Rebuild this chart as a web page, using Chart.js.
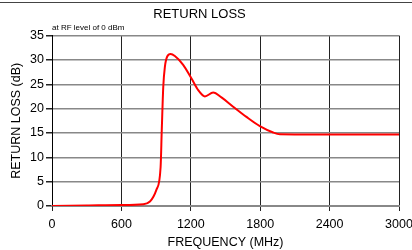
<!DOCTYPE html>
<html>
<head>
<meta charset="utf-8">
<script src="https://cdn.jsdelivr.net/npm/chart.js@4/dist/chart.umd.min.js"></script>
<style>
  html, body { margin: 0; padding: 0; background: #fff; }
  #wrap { width: 412px; height: 250px; }
</style>
</head>
<body>
<div id="wrap"><canvas id="grafico" width="412" height="250"></canvas></div>
<script>
// Valores (MHz, dB)
const frequencias = [0, 300, 600, 790, 904, 939, 949, 962, 976, 996, 1025, 1062, 1134, 1206, 1264, 1322, 1393, 1465, 1566, 1681, 1797, 1912, 1970, 2400, 3000];
const perdaRetorno = [0, 0.1, 0.2, 0.35, 3.4, 8, 15.6, 24.5, 28.6, 30.7, 31.2, 30.8, 29, 26.2, 23.8, 22.5, 23.3, 22.3, 20.4, 18.3, 16.4, 15.1, 14.75, 14.7, 14.7];
const ticksX = [0, 600, 1200, 1800, 2400, 3000];

Chart.defaults.font.family = '"Liberation Sans", Arial, sans-serif';
Chart.defaults.color = '#000';

// Linha escura no topo da figura
const bordaTopo = {
    id: 'bordaTopo',
    beforeDraw(chart) {
        const ctx = chart.ctx;
        ctx.save();
        ctx.strokeStyle = '#444';
        ctx.lineWidth = 1;
        ctx.beginPath();
        ctx.moveTo(0, 2.5);
        ctx.lineTo(chart.width, 2.5);
        ctx.stroke();
        ctx.restore();
    }
};

const ctx = document.getElementById('grafico').getContext('2d');
window.grafico = new Chart(ctx, {
    type: 'line',
    data: {
        datasets: [{
            label: 'Return Loss',
            data: frequencias.map((f, i) => ({ x: f, y: perdaRetorno[i] })),
            borderColor: '#ff0000',
            borderWidth: 2,
            pointRadius: 0,
            fill: false,
            cubicInterpolationMode: 'monotone'
        }]
    },
    options: {
        responsive: false,
        animation: false,
        layout: { padding: { left: 0, right: 13, top: 0, bottom: 0 } },
        plugins: {
            legend: { display: false },
            tooltip: { enabled: false },
            title: {
                display: true,
                text: 'RETURN LOSS',
                font: { size: 13, weight: 'normal' },
                padding: { top: 7, bottom: 0 }
            },
            subtitle: {
                display: true,
                text: 'at RF level of 0 dBm',
                align: 'start',
                fullSize: false,
                font: { size: 8 },
                padding: { top: 0, bottom: 3.4 }
            }
        },
        scales: {
            x: {
                type: 'linear',
                min: 0,
                max: 3000,
                afterBuildTicks: (scale) => { scale.ticks = ticksX.map(v => ({ value: v })); },
                afterFit: (scale) => {
                    scale.height = 44;
                    scale.paddingLeft = 0;
                    scale.paddingRight = 0;
                },
                ticks: {
                    font: { size: 12.5 },
                    padding: 6,
                    maxRotation: 0,
                    callback: (v) => String(v)
                },
                grid: { color: '#222', lineWidth: 1, tickLength: 5, tickColor: '#222' },
                border: { color: '#888', width: 2 },
                title: {
                    display: true,
                    text: 'FREQUENCY (MHz)',
                    font: { size: 12.5 },
                    padding: { top: 0, bottom: 0 }
                }
            },
            y: {
                min: 0,
                max: 35,
                afterFit: (scale) => { scale.width = 52; },
                ticks: { stepSize: 5, font: { size: 12.5 }, padding: 2 },
                grid: { color: '#888', lineWidth: 1.5, tickLength: 6, tickColor: '#222' },
                border: { color: '#000', width: 1 },
                title: {
                    display: true,
                    text: 'RETURN LOSS (dB)',
                    font: { size: 12.5 },
                    padding: { top: 9, bottom: 0 }
                }
            }
        }
    },
    plugins: [bordaTopo]
});
</script>
</body>
</html>
